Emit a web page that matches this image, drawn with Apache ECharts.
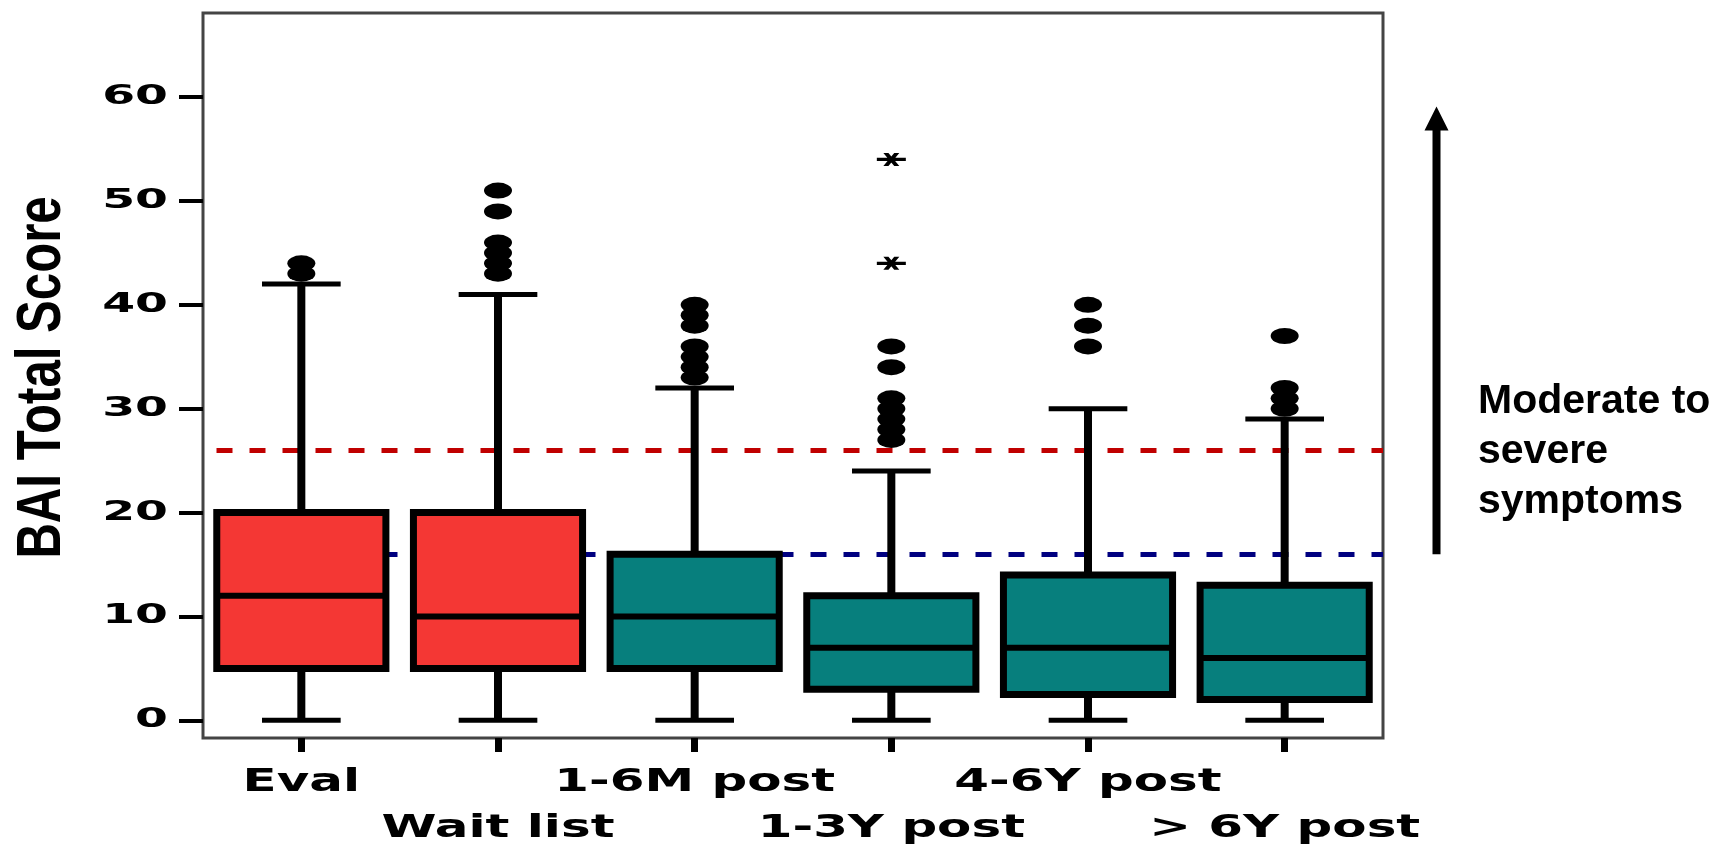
<!DOCTYPE html>
<html><head><meta charset="utf-8">
<script src="https://cdn.jsdelivr.net/npm/echarts@6/dist/echarts.min.js"></script>
<style>html,body{margin:0;padding:0;background:#fff}#c{width:1720px;height:848px}</style>
</head><body><div id="c"></div>
<script>
// ---- data ----
const categories = ['Eval', 'Wait list', '1-6M post', '1-3Y post', '4-6Y post', '> 6Y post'];
const whiskerLow = [0, 0, 0, 0, 0, 0];
const quartile1 = [5, 5, 5, 3, 2.5, 2];
const medians = [12, 10, 10, 7, 7, 6];
const quartile3 = [20, 20, 16, 12, 14, 13];
const whiskerHigh = [42, 41, 32, 24, 30, 29];
const outliers = [
  [43, 44],
  [43, 44, 45, 46, 49, 51],
  [33, 34, 35, 36, 38, 39, 40],
  [27, 28, 29, 30, 31, 34, 36],
  [36, 38, 40],
  [30, 31, 32, 37]
];
const extremes = [[], [], [], [44, 54], [], []];
const yTicks = [0, 10, 20, 30, 40, 50, 60];
const severeCut = 26;
const moderateCut = 16;
const boxGroup = ['pre', 'pre', 'post', 'post', 'post', 'post'];

// ---- styles ----
const BOX_FILL = { pre: '#f43734', post: '#077f7d' };
const BOX_RATIO = 0.86;
const CAP_RATIO = 0.40;
const TICK_FONT = 'bold 27px "DejaVu Sans", sans-serif';
const LABEL_FONT = 'bold 32px "DejaVu Sans", sans-serif';

const boxData = categories.map((c, i) => [i, whiskerLow[i], quartile1[i], medians[i], quartile3[i], whiskerHigh[i]]);
const dotData = [];
outliers.forEach((arr, i) => arr.forEach(v => dotData.push([i, v])));
const starData = [];
extremes.forEach((arr, i) => arr.forEach(v => starData.push([i, v])));

function renderBox(params, api) {
  const i = api.value(0);
  const xc = api.coord([i, api.value(3)])[0];
  const yMin = api.coord([i, api.value(1)])[1];
  const yQ1 = api.coord([i, api.value(2)])[1];
  const yMed = api.coord([i, api.value(3)])[1];
  const yQ3 = api.coord([i, api.value(4)])[1];
  const yMax = api.coord([i, api.value(5)])[1];
  const band = api.size([1, 0])[0];
  const bw = band * BOX_RATIO, cw = band * CAP_RATIO;
  const fill = BOX_FILL[boxGroup[params.dataIndex]];
  const blk = '#000';
  return {
    type: 'group',
    children: [
      { type: 'line', shape: { x1: xc, y1: yMin, x2: xc, y2: yQ1 }, style: { stroke: blk, lineWidth: 8 } },
      { type: 'line', shape: { x1: xc, y1: yQ3, x2: xc, y2: yMax }, style: { stroke: blk, lineWidth: 8 } },
      { type: 'line', shape: { x1: xc - cw / 2, y1: yMin, x2: xc + cw / 2, y2: yMin }, style: { stroke: blk, lineWidth: 5 } },
      { type: 'line', shape: { x1: xc - cw / 2, y1: yMax, x2: xc + cw / 2, y2: yMax }, style: { stroke: blk, lineWidth: 5 } },
      { type: 'rect', shape: { x: xc - bw / 2, y: yQ3, width: bw, height: yQ1 - yQ3 }, style: { fill: fill, stroke: blk, lineWidth: 7 } },
      { type: 'line', shape: { x1: xc - bw / 2, y1: yMed, x2: xc + bw / 2, y2: yMed }, style: { stroke: blk, lineWidth: 6 } }
    ]
  };
}

const chart = echarts.init(document.getElementById('c'), null, { renderer: 'canvas' });
const option = {
  animation: false,
  backgroundColor: '#fff',
  grid: { left: 203, right: 337, top: 13, bottom: 110, show: true, borderColor: '#444', borderWidth: 3, backgroundColor: 'transparent' },
  xAxis: {
    type: 'category', data: categories, boundaryGap: true,
    axisLine: { show: false, onZero: false },
    axisTick: { show: true, alignWithLabel: true, length: 14, lineStyle: { color: '#000', width: 7 } },
    axisLabel: { show: false },
    splitLine: { show: false }
  },
  yAxis: {
    type: 'value', min: -1.7, max: 68.1,
    axisLine: { show: false, onZero: false },
    axisTick: { show: true, length: 24, customValues: yTicks, lineStyle: { color: '#000', width: 4 } },
    axisLabel: { show: false, customValues: yTicks },
    splitLine: { show: false }
  },
  series: [
    {
      type: 'line', data: [], z: 1, silent: true,
      markLine: {
        z: 1, silent: true, symbol: 'none', label: { show: false },
        lineStyle: { type: [16, 17], dashOffset: 19.5, width: 5 },
        data: [
          { yAxis: severeCut, lineStyle: { color: '#c00000', type: [16, 17], dashOffset: 19.5, width: 5 } },
          { yAxis: moderateCut, lineStyle: { color: '#000080', type: [16, 17], dashOffset: 19.5, width: 5 } }
        ]
      }
    },
    {
      type: 'custom', z: 3, renderItem: renderBox, data: boxData,
      encode: { x: 0, y: [1, 2, 3, 4, 5] }
    },
    {
      type: 'scatter', z: 4, data: dotData,
      symbol: 'path://M0,1A1,1,0,1,1,2,1A1,1,0,1,1,0,1Z',
      symbolSize: [28, 16],
      itemStyle: { color: '#000', opacity: 1 }
    },
    {
      type: 'scatter', z: 4, data: starData,
      symbol: 'path://M0,4.5H20V7.5H0Z M4.5,0L8,0L15.5,12L12,12Z M12,0L15.5,0L8,12L4.5,12Z',
      symbolSize: [29, 13],
      itemStyle: { color: '#000', opacity: 1 }
    }
  ]
};
chart.setOption(option);

// ---- text & annotations positioned through the chart's own scales ----
const g = [];
yTicks.forEach(v => {
  const py = chart.convertToPixel({ yAxisIndex: 0 }, v);
  g.push({
    type: 'text', x: 168, y: py, scaleX: 1.75,
    style: { text: String(v), font: TICK_FONT, fill: '#000',
      align: 'right', verticalAlign: 'middle', textAlign: 'right', textVerticalAlign: 'middle' }
  });
});
const gridBottom = chart.convertToPixel({ yAxisIndex: 0 }, -1.7);
categories.forEach((c, i) => {
  const px = chart.convertToPixel({ xAxisIndex: 0 }, i);
  const py = gridBottom + (i % 2 ? 91 : 45);
  g.push({
    type: 'text', x: px, y: py, scaleX: 1.56,
    style: { text: c, font: LABEL_FONT, fill: '#000',
      align: 'center', verticalAlign: 'middle', textAlign: 'center', textVerticalAlign: 'middle' }
  });
});
g.push({
  type: 'text', x: 42.5, y: 377.5, rotation: Math.PI / 2, scaleX: 0.78,
  style: { text: 'BAI Total Score', font: 'bold 63px "Liberation Sans", Arial, sans-serif', fill: '#000',
    align: 'center', verticalAlign: 'middle', textAlign: 'center', textVerticalAlign: 'middle' }
});
// arrow from moderate cut upward
const arrowBottom = chart.convertToPixel({ yAxisIndex: 0 }, moderateCut);
const arrowTip = chart.convertToPixel({ yAxisIndex: 0 }, 59.1);
g.push({ type: 'line', shape: { x1: 1436.5, y1: arrowBottom, x2: 1436.5, y2: arrowTip + 22 }, style: { stroke: '#000', lineWidth: 8 } });
g.push({ type: 'polygon', shape: { points: [[1424.5, arrowTip + 24], [1448.5, arrowTip + 24], [1436.5, arrowTip]] }, style: { fill: '#000' } });
['Moderate to', 'severe', 'symptoms'].forEach((t, k) => {
  g.push({
    type: 'text', x: 1478, y: 402 + k * 50,
    style: { text: t, font: 'bold 41px "Liberation Sans", Arial, sans-serif', fill: '#000',
      align: 'left', verticalAlign: 'middle', textAlign: 'left', textVerticalAlign: 'middle' }
  });
});
chart.setOption({ graphic: { elements: g } });
</script>
</body></html>
